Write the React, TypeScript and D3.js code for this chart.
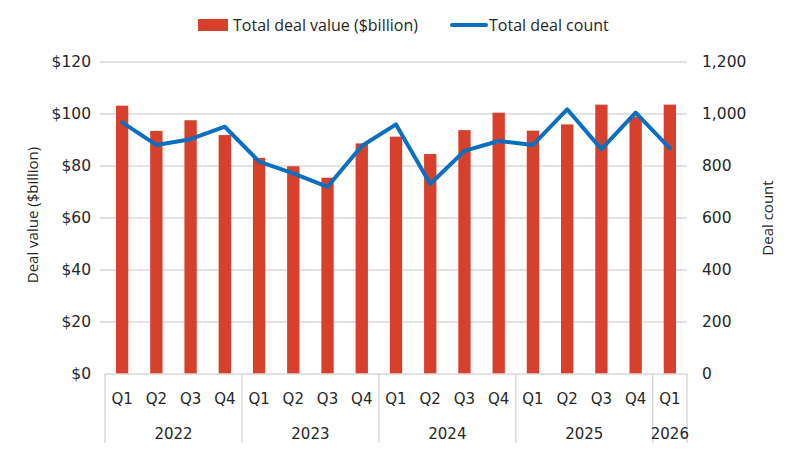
import React from 'react'
import * as d3 from 'd3'

// chart data
const years = ['2022', '2023', '2024', '2025', '2026']
const quarters = ['Q1', 'Q2', 'Q3', 'Q4', 'Q1', 'Q2', 'Q3', 'Q4', 'Q1', 'Q2', 'Q3', 'Q4', 'Q1', 'Q2', 'Q3', 'Q4', 'Q1']
const quarterYear = ['2022', '2022', '2022', '2022', '2023', '2023', '2023', '2023', '2024', '2024', '2024', '2024', '2025', '2025', '2025', '2025', '2026']
const dealValue = [103.2, 93.5, 97.6, 91.9, 83.1, 79.9, 75.5, 88.7, 91.3, 84.6, 93.8, 100.5, 93.6, 96.0, 103.6, 99.0, 103.6]
const dealCount = [968, 881, 903, 951, 817, 772, 720, 877, 960, 731, 858, 896, 881, 1018, 865, 1005, 868]
const leftTicks = [0, 20, 40, 60, 80, 100, 120]
const rightTicks = [0, 200, 400, 600, 800, 1000, 1200]

const W = 800
const H = 453
const margin = { top: 62, right: 113, bottom: 79, left: 105 }

const barColor = '#d7402a'
const lineColor = '#0b6fc0'
const gridColor = '#d9d9d9'
const textColor = '#262626'
const tickFont = '"DejaVu Sans", Verdana, sans-serif'
const titleFont = '"Open Sans", Lato, sans-serif'

export default function App() {
    const innerW = W - margin.left - margin.right
    const innerH = H - margin.top - margin.bottom
    const keys = quarters.map((q, i) => `${quarterYear[i]}-${q}`)

    const x = d3.scaleBand<string>().domain(keys).range([margin.left, margin.left + innerW]).padding(0)
    const yL = d3.scaleLinear().domain([0, 120]).range([margin.top + innerH, margin.top])
    const yR = d3.scaleLinear().domain([0, 1200]).range([margin.top + innerH, margin.top])
    const barW = x.bandwidth() * 0.36
    const cx = (i: number) => (x(keys[i]) as number) + x.bandwidth() / 2

    const line = d3.line<number>()
        .x((_, i) => cx(i))
        .y(d => yR(d))

    // year groups: first and last index of each year
    const yearSpans = years.map(yr => {
        const idx = quarterYear.map((y, i) => (y === yr ? i : -1)).filter(i => i >= 0)
        const x0 = x(keys[idx[0]]) as number
        const x1 = (x(keys[idx[idx.length - 1]]) as number) + x.bandwidth()
        return { yr, x0, x1 }
    })
    const baseY = yL(0)

    return (
        <svg width={W} height={H} style={{ position: 'absolute', left: 0, top: 0, background: '#fff' }}>
            {/* grid */}
            {leftTicks.slice(1).map(t => (
                <line key={t} x1={margin.left - 5} x2={margin.left + innerW} y1={yL(t)} y2={yL(t)} stroke={gridColor} strokeWidth={1.5} />
            ))}

            {/* bars */}
            {dealValue.map((v, i) => (
                <rect key={keys[i]} x={cx(i) - barW / 2} y={yL(v)} width={barW} height={baseY - yL(v)} fill={barColor} />
            ))}

            {/* line */}
            <path d={line(dealCount) || ''} fill="none" stroke={lineColor} strokeWidth={4} strokeLinejoin="round" strokeLinecap="round" />

            {/* x axis */}
            <line x1={margin.left} x2={margin.left + innerW} y1={baseY} y2={baseY} stroke={gridColor} strokeWidth={1.5} />
            {yearSpans.map(s => (
                <line key={'s' + s.yr} x1={s.x0} x2={s.x0} y1={baseY} y2={baseY + 69} stroke={gridColor} strokeWidth={1.5} />
            ))}
            <line x1={margin.left + innerW} x2={margin.left + innerW} y1={baseY} y2={baseY + 69} stroke={gridColor} strokeWidth={1.5} />
            {quarters.map((q, i) => (
                <text key={'q' + i} x={cx(i)} y={baseY + 30} textAnchor="middle" fontFamily={tickFont} fontSize={15} fill={textColor}>{q}</text>
            ))}
            {yearSpans.map(s => (
                <text key={'y' + s.yr} x={(s.x0 + s.x1) / 2} y={baseY + 65} textAnchor="middle" fontFamily={tickFont} fontSize={15} fill={textColor}>{s.yr}</text>
            ))}

            {/* left axis */}
            {leftTicks.map(t => (
                <text key={'l' + t} x={margin.left - 14} y={yL(t)} dy="0.35em" textAnchor="end" fontFamily={tickFont} fontSize={15.5} fill={textColor}>{`$${t}`}</text>
            ))}
            <text transform={`translate(38,${margin.top + innerH / 2 - 3}) rotate(-90)`} textAnchor="middle" fontFamily={titleFont} fontSize={15} fill={textColor}>Deal value ($billion)</text>

            {/* right axis */}
            {rightTicks.map(t => (
                <text key={'r' + t} x={margin.left + innerW + 15} y={yR(t)} dy="0.35em" textAnchor="start" fontFamily={tickFont} fontSize={15.5} fill={textColor}>{d3.format(',')(t)}</text>
            ))}
            <text transform={`translate(773,${margin.top + innerH / 2}) rotate(-90)`} textAnchor="middle" fontFamily={titleFont} fontSize={15} fill={textColor}>Deal count</text>

            {/* legend */}
            <rect x={198} y={19} width={30} height={12} fill={barColor} />
            <text x={233} y={25} dy="0.35em" fontFamily={titleFont} fontSize={16} fill={textColor}>Total deal value ($billion)</text>
            <line x1={452} x2={486} y1={25} y2={25} stroke={lineColor} strokeWidth={4} strokeLinecap="round" />
            <text x={489} y={25} dy="0.35em" fontFamily={titleFont} fontSize={16} fill={textColor}>Total deal count</text>
        </svg>
    )
}
